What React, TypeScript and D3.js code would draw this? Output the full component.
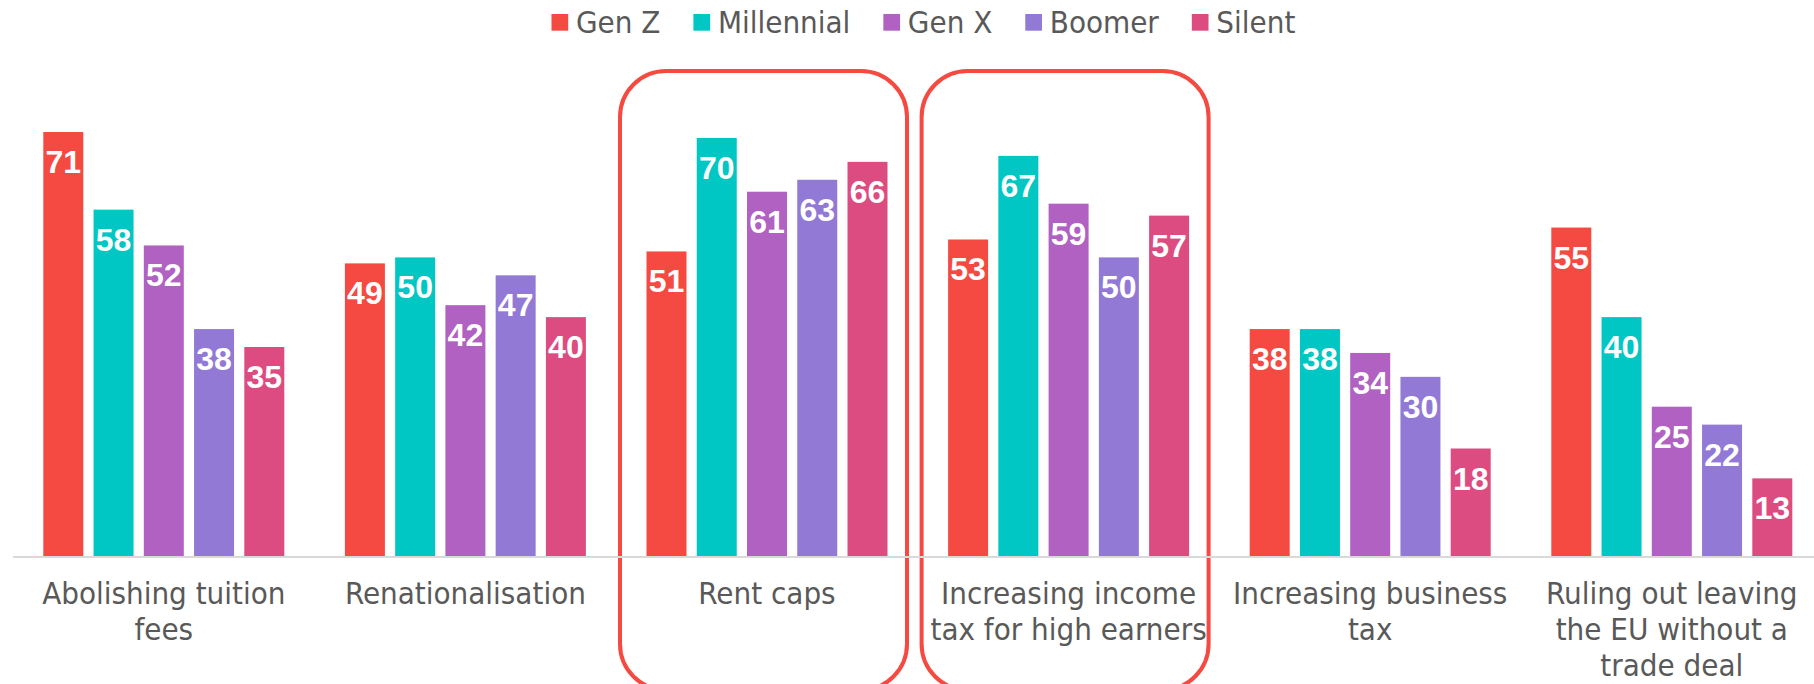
import React, { useEffect, useRef } from "react";
import * as d3 from "d3";

const categories = [
  ["Abolishing tuition", "fees"],
  ["Renationalisation"],
  ["Rent caps"],
  ["Increasing income", "tax for high earners"],
  ["Increasing business", "tax"],
  ["Ruling out leaving", "the EU without a", "trade deal"],
];
const categoryKeys = categories.map((c) => c.join(" "));
const seriesNames = ["Gen Z", "Millennial", "Gen X", "Boomer", "Silent"];
const genZ = [71, 49, 51, 53, 38, 55];
const millennial = [58, 50, 70, 67, 38, 40];
const genX = [52, 42, 61, 59, 34, 25];
const boomer = [38, 47, 63, 50, 30, 22];
const silent = [35, 40, 66, 57, 18, 13];
const seriesValues = [genZ, millennial, genX, boomer, silent];
const colors = ["#F44A41", "#00C7C3", "#B061C1", "#9279D6", "#DD4C81"];
const highlighted = ["Rent caps", "Increasing income tax for high earners"];

const W = 1814;
const H = 684;
const FONT = "'DejaVu Sans Condensed', 'DejaVu Sans', sans-serif";

export default function App() {
  const ref = useRef<SVGSVGElement>(null);

  useEffect(() => {
    document.body.style.margin = "0";
    const svg = d3.select(ref.current);
    svg.selectAll("*").remove();

    const x0 = d3.scaleBand().domain(categoryKeys).range([13, 1822.6]).padding(0);
    const x1 = d3
      .scaleBand()
      .domain(seriesNames)
      .range([0, x0.bandwidth()])
      .paddingInner(0.204)
      .paddingOuter(0.603);
    const y = d3.scaleLinear().domain([0, 71]).range([556, 132]);

    // highlight boxes
    svg
      .append("g")
      .selectAll("rect")
      .data(highlighted)
      .join("rect")
      .attr("x", (d) => (x0(d) as number) + 3.8)
      .attr("y", 71)
      .attr("width", 287)
      .attr("height", 690 - 71)
      .attr("rx", 46)
      .attr("ry", 46)
      .attr("fill", "none")
      .attr("stroke", "#F44A41")
      .attr("stroke-width", 4);

    // bars
    const groups = svg
      .append("g")
      .selectAll("g")
      .data(categoryKeys)
      .join("g")
      .attr("transform", (d) => `translate(${x0(d)},0)`);

    groups
      .selectAll("rect")
      .data((_, i) => seriesNames.map((s, j) => ({ s, j, v: seriesValues[j][i] })))
      .join("rect")
      .attr("x", (d) => x1(d.s) as number)
      .attr("y", (d) => y(d.v))
      .attr("width", x1.bandwidth())
      .attr("height", (d) => y(0) - y(d.v))
      .attr("fill", (d) => colors[d.j]);

    groups
      .selectAll("text")
      .data((_, i) => seriesNames.map((s, j) => ({ s, j, v: seriesValues[j][i] })))
      .join("text")
      .attr("x", (d) => (x1(d.s) as number) + x1.bandwidth() / 2)
      .attr("y", (d) => y(d.v) + 41)
      .attr("text-anchor", "middle")
      .attr("fill", "#ffffff")
      .attr("font-family", "'Liberation Sans', Arial, sans-serif")
      .attr("font-weight", "bold")
      .attr("font-size", 32)
      .text((d) => d.v);

    // axis line
    svg
      .append("line")
      .attr("x1", 13)
      .attr("x2", W)
      .attr("y1", 557)
      .attr("y2", 557)
      .attr("stroke", "#D9D9D9")
      .attr("stroke-width", 2);

    // category labels
    const labels = svg
      .append("g")
      .selectAll("text")
      .data(categories)
      .join("text")
      .attr("text-anchor", "middle")
      .attr("fill", "#595959")
      .attr("font-family", FONT)
      .attr("font-size", 31);
    labels
      .selectAll("tspan")
      .data((d, i) => d.map((line) => ({ line, i })))
      .join("tspan")
      .attr("x", (d) => (x0(categoryKeys[d.i]) as number) + x0.bandwidth() / 2)
      .attr("y", (_, k) => 604 + k * 36)
      .text((d) => d.line);

    // legend
    const legend = svg.append("g");
    const items = legend
      .selectAll("g")
      .data(seriesNames)
      .join("g");
    items
      .append("rect")
      .attr("width", 16.7)
      .attr("height", 16.7)
      .attr("y", 14)
      .attr("fill", (_, i) => colors[i]);
    items
      .append("text")
      .attr("x", 24.5)
      .attr("y", 33)
      .attr("fill", "#595959")
      .attr("font-family", FONT)
      .attr("font-size", 31)
      .text((d) => d);
    let cx = 0;
    const offsets: number[] = [];
    items.each(function () {
      const t = d3.select(this).select("text").node() as SVGTextElement;
      offsets.push(cx);
      cx += 24.5 + t.getComputedTextLength() + 33;
    });
    const total = cx - 33;
    const start = 923.4 - total / 2;
    items.attr("transform", (_, i) => `translate(${start + offsets[i]},0)`);
  }, []);

  return <svg ref={ref} width={W} height={H} style={{ display: "block" }} />;
}
